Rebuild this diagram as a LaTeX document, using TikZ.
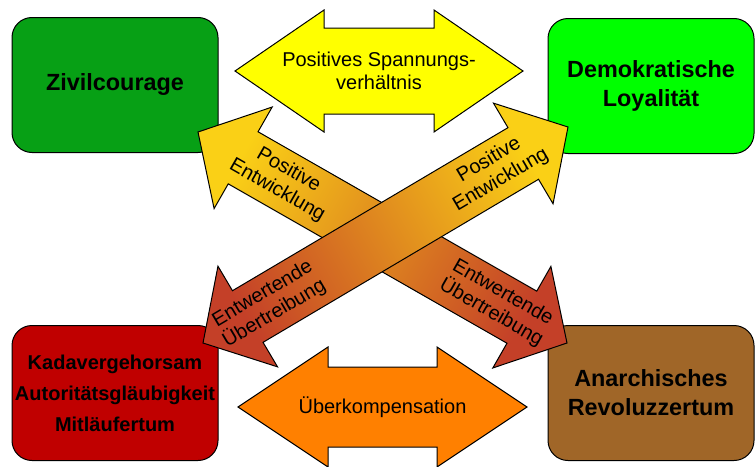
\documentclass[tikz,border=0pt]{standalone}
\usepackage{fontspec}
\setmainfont{Liberation Sans}
\usetikzlibrary{calc}

\definecolor{zivilGreen}{RGB}{7,160,21}
\definecolor{demoGreen}{RGB}{0,255,0}
\definecolor{kadRed}{RGB}{192,0,0}
\definecolor{anarchBrown}{RGB}{160,102,40}
\definecolor{spannYellow}{RGB}{255,255,0}
\definecolor{kompOrange}{RGB}{255,128,0}
\definecolor{posYellow}{RGB}{250,208,22}
\definecolor{midOrange}{RGB}{224,140,32}
\definecolor{entRed}{RGB}{196,64,40}

% [options]{from}{to}{shaft half width}{head half width}{head length}
\newcommand{\dblarrow}[6][]{%
  \path[#1] (#2)
    -- ($(#2)!#6!(#3)!#5!90:(#3)$)
    -- ($(#2)!#6!(#3)!#4!90:(#3)$)
    -- ($(#3)!#6!(#2)!#4!-90:(#2)$)
    -- ($(#3)!#6!(#2)!#5!-90:(#2)$)
    -- (#3)
    -- ($(#3)!#6!(#2)!#5!90:(#2)$)
    -- ($(#3)!#6!(#2)!#4!90:(#2)$)
    -- ($(#2)!#6!(#3)!#4!-90:(#3)$)
    -- ($(#2)!#6!(#3)!#5!-90:(#3)$)
    -- cycle;}

\tikzset{
  box/.style={draw, line width=0.5pt, rounded corners=10pt, minimum width=103pt,
    minimum height=67.5pt, align=center, font=\fontsize{11.7}{14.5}\selectfont\bfseries},
  arrowtext/.style={align=center, font=\fontsize{10}{11.5}\selectfont},
  outline/.style={draw, line width=0.5pt}
}

\begin{document}
\begin{tikzpicture}[x=0.5pt, y=-0.5pt]
\useasboundingbox (0,0) rectangle (755,466);

\node[box, fill=zivilGreen](zivil) at (115,85) {Zivilcourage};
\node[box, fill=demoGreen](demokrat) at (651,86) {Demokratische\\Loyalität};
\node[box, fill=kadRed, inner xsep=1pt, font=\fontsize{10}{15.5}\selectfont\bfseries](kadaver) at (115,393)
  {Kadavergehorsam\\Autoritätsgläubigkeit\\Mitläufertum};
\node[box, fill=anarchBrown](anarch) at (651,393) {Anarchisches\\Revoluzzertum};

\coordinate (spannL) at (235,71);
\coordinate (spannR) at (523,71);
\coordinate (kompL) at (238,407);
\coordinate (kompR) at (527,407);
\coordinate (tipZivil) at (198,132);
\coordinate (tipAnarch) at (567,343);
\coordinate (tipKadaver) at (203,343);
\coordinate (tipDemokrat) at (568,127);

\dblarrow[outline, fill=spannYellow]{spannL}{spannR}{21.5pt}{30.5pt}{44.5pt}
\node[arrowtext](spann) at ($(spannL)!0.5!(spannR)$) {Positives Spannungs-\\verhältnis};

\dblarrow[outline, fill=kompOrange]{kompL}{kompR}{20pt}{30pt}{45pt}
\node[arrowtext](komp) at ($(kompL)!0.5!(kompR)$) {Überkompensation};

\dblarrow[outline, top color=posYellow, middle color=midOrange, bottom color=entRed,
  shading angle=60]{tipZivil}{tipAnarch}{15pt}{29.25pt}{26pt}
\path (tipZivil) -- (tipAnarch)
  node[arrowtext, sloped, pos=0.23](posZivil) {Positive\\Entwicklung}
  node[arrowtext, sloped, pos=0.81](entAnarch) {Entwertende\\Übertreibung};

\dblarrow[outline, top color=posYellow, middle color=midOrange, bottom color=entRed,
  shading angle=-60]{tipKadaver}{tipDemokrat}{15pt}{29.25pt}{26pt}
\path (tipKadaver) -- (tipDemokrat)
  node[arrowtext, sloped, pos=0.18](entKadaver) {Entwertende\\Übertreibung}
  node[arrowtext, sloped, pos=0.80](posDemokrat) {Positive\\Entwicklung};
\end{tikzpicture}
\end{document}
